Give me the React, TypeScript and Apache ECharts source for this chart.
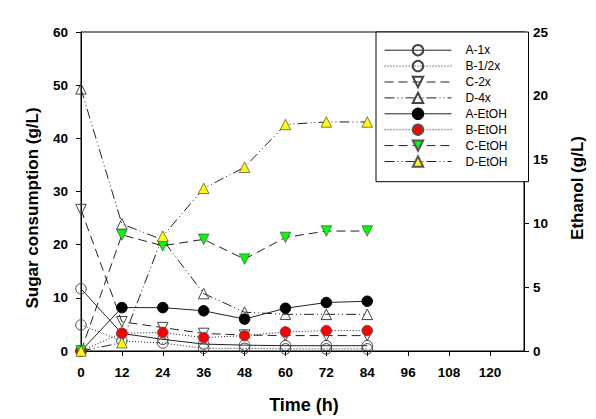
import React, { useEffect, useRef } from "react";
import * as echarts from "echarts";

// ---- data ----
const times = [0, 12, 24, 36, 48, 60, 72, 84];
const xTickValues = [0, 12, 24, 36, 48, 60, 72, 84, 96, 108, 120];

const sugarA1x = [11.7, 3.3, 2.2, 1.3, 1.1, 1.0, 1.0, 1.0];
const sugarB12x = [4.9, 1.9, 1.5, 0.5, 0.5, 0.4, 0.4, 0.4];
const sugarC2x = [26.6, 5.5, 4.4, 3.3, 3.0, 2.9, 2.9, 2.9];
const sugarD4x = [49.3, 23.9, 20.9, 10.8, 7.3, 6.9, 6.9, 6.9];

const etohA = [0, 3.4, 3.4, 3.15, 2.5, 3.35, 3.8, 3.9];
const etohB = [0, 1.4, 1.45, 1.05, 1.2, 1.5, 1.6, 1.6];
const etohC = [0, 9.1, 8.25, 8.75, 7.2, 8.9, 9.4, 9.4];
const etohD = [0, 0.65, 9.0, 12.75, 14.4, 17.75, 17.95, 17.95];

const seriesNames = ["A-1x", "B-1/2x", "C-2x", "D-4x", "A-EtOH", "B-EtOH", "C-EtOH", "D-EtOH"];

const FONT = "'Liberation Sans', Arial, Helvetica, sans-serif";

export default function App() {
  const ref = useRef<HTMLDivElement>(null);

  useEffect(() => {
    document.body.style.margin = "0";
    const chart = echarts.init(ref.current as HTMLDivElement, null, { renderer: "svg" });
    const pair = (ys: number[]) => times.map((t, i) => [t, ys[i]]);

    const solid = "solid";
    const dotted = [1, 2];
    const dashed = [9, 5];
    const dashDotDot = [10, 3, 1, 3, 1, 3];

    const openStyle = { color: "rgba(255,255,255,0)", borderColor: "#444", borderWidth: 1 };

    const mk = (
      name: string,
      ys: number[],
      yAxisIndex: number,
      lineType: any,
      symbol: string,
      rotate: number,
      itemStyle: any
    ) => ({
      name,
      type: "line",
      yAxisIndex,
      data: pair(ys),
      symbol,
      symbolSize: 10.5,
      symbolRotate: rotate,
      showSymbol: true,
      lineStyle: { color: "#222", width: 1, type: lineType },
      itemStyle,
      emphasis: { disabled: true },
      z: 2,
    });

    const axisLabelStyle = {
      color: "#000",
      fontFamily: FONT,
      fontWeight: "bold" as const,
      fontSize: 13.5,
    };

    chart.setOption({
      animation: false,
      backgroundColor: "#fff",
      grid: {
        left: 81,
        right: 72,
        top: 32,
        bottom: 68,
        show: true,
        borderColor: "#000",
        borderWidth: 1,
        backgroundColor: "transparent",
      },
      xAxis: {
        type: "value",
        min: 0,
        max: 130,
        interval: 12,
        axisLine: { show: true, onZero: false, lineStyle: { color: "#000", width: 1 } },
        axisTick: { show: true, inside: false, length: 5, lineStyle: { color: "#000" }, customValues: xTickValues },
        axisLabel: { ...axisLabelStyle, margin: 14, customValues: xTickValues },
        splitLine: { show: false },
      },
      yAxis: [
        {
          type: "value",
          position: "left",
          min: 0,
          max: 60,
          interval: 10,
          axisLine: { show: true, onZero: false, lineStyle: { color: "#000", width: 1 } },
          axisTick: { show: true, inside: false, length: 5, lineStyle: { color: "#000" } },
          axisLabel: { ...axisLabelStyle, margin: 13 },
          splitLine: { show: false },
        },
        {
          type: "value",
          position: "right",
          min: 0,
          max: 25,
          interval: 5,
          axisLine: { show: true, onZero: false, lineStyle: { color: "#000", width: 1 } },
          axisTick: { show: true, inside: false, length: 5, lineStyle: { color: "#000" } },
          axisLabel: { ...axisLabelStyle, margin: 9 },
          splitLine: { show: false },
        },
      ],
      legend: {
        orient: "vertical",
        left: 376,
        top: 32,
        data: seriesNames,
        itemWidth: 67,
        itemHeight: 13,
        itemGap: 3.5,
        padding: [12, 21, 14, 8],
        backgroundColor: "#fff",
        borderColor: "#000",
        borderWidth: 1,
        borderRadius: 0,
        selectedMode: false,
        lineStyle: { width: 1 },
        textStyle: { color: "#000", fontFamily: FONT, fontSize: 12, padding: [0, 0, 0, 9] },
        z: 10,
      },
      graphic: [
        {
          type: "text",
          x: 32,
          y: 208,
          rotation: Math.PI / 2,
          style: {
            text: "Sugar consumption (g/L)",
            fontFamily: FONT,
            fontWeight: "bold",
            fontSize: 17,
            fill: "#000",
            align: "center",
            verticalAlign: "middle",
          },
        },
        {
          type: "text",
          x: 577,
          y: 188,
          rotation: Math.PI / 2,
          style: {
            text: "Ethanol (g/L)",
            fontFamily: FONT,
            fontWeight: "bold",
            fontSize: 17,
            fill: "#000",
            align: "center",
            verticalAlign: "middle",
          },
        },
        {
          type: "text",
          x: 304,
          y: 405,
          style: {
            text: "Time (h)",
            fontFamily: FONT,
            fontWeight: "bold",
            fontSize: 18,
            fill: "#000",
            align: "center",
            verticalAlign: "middle",
          },
        },
      ],
      series: [
        mk(seriesNames[0], sugarA1x, 0, solid, "circle", 0, openStyle),
        mk(seriesNames[1], sugarB12x, 0, dotted, "circle", 0, openStyle),
        mk(seriesNames[2], sugarC2x, 0, dashed, "triangle", 180, openStyle),
        mk(seriesNames[3], sugarD4x, 0, dashDotDot, "triangle", 0, openStyle),
        mk(seriesNames[4], etohA, 1, solid, "circle", 0, { color: "#000", borderColor: "#000", borderWidth: 1 }),
        mk(seriesNames[5], etohB, 1, dotted, "circle", 0, { color: "#ff0000", borderColor: "#555", borderWidth: 0.8 }),
        mk(seriesNames[6], etohC, 1, dashed, "triangle", 180, { color: "#00ff00", borderColor: "#555", borderWidth: 0.8 }),
        mk(seriesNames[7], etohD, 1, dashDotDot, "triangle", 0, { color: "#ffff00", borderColor: "#555", borderWidth: 0.8 }),
      ],
    });

    return () => chart.dispose();
  }, []);

  return (
    <div
      ref={ref}
      style={{ position: "absolute", left: 0, top: 0, width: 596, height: 419 }}
    />
  );
}
